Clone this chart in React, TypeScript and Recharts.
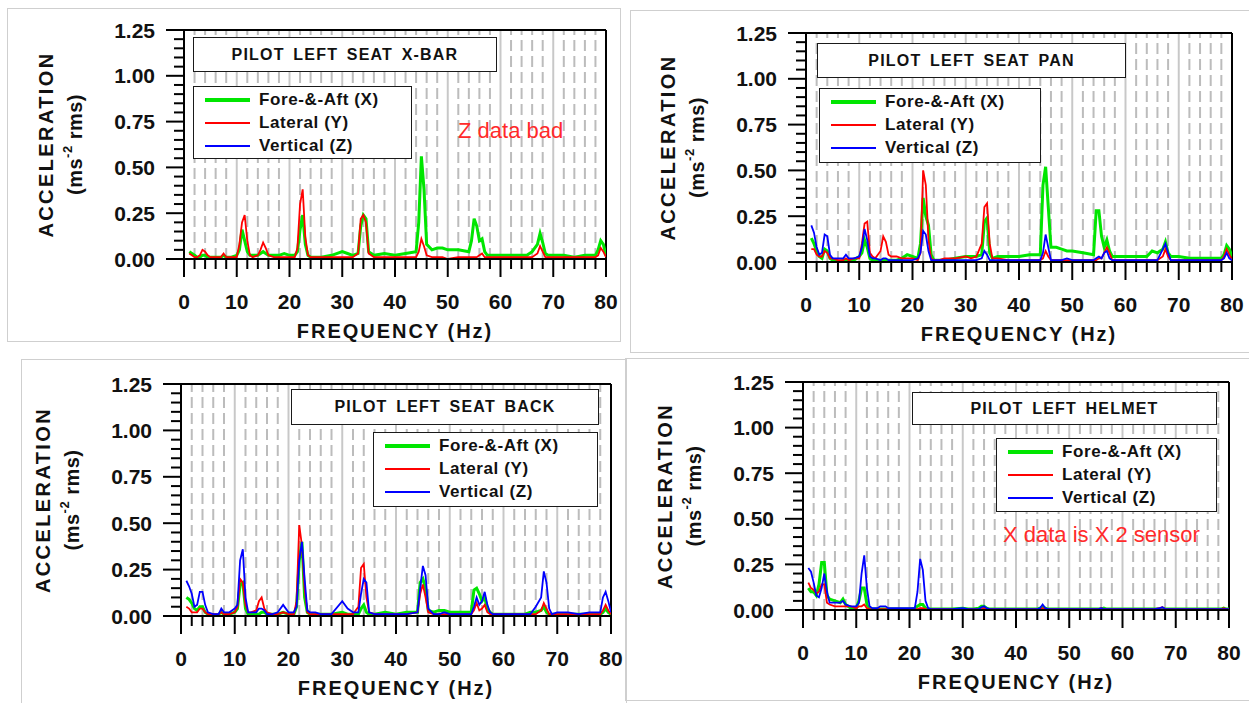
import React from "react";
import { LineChart, Line, XAxis, YAxis, ReferenceLine, Label } from "recharts";

// frequency grid (Hz), shared by every trace
const freqHz = [
  1, 1.5, 2, 2.5, 3, 3.5, 4, 4.5, 5,
  6, 7, 7.5, 8, 9, 10,
  10.5, 11, 11.5, 12, 12.5, 13,
  14, 14.5, 15, 15.5, 16,
  17, 18, 19, 20, 21,
  21.5, 22, 22.5, 23, 23.5, 24,
  25, 26, 28, 30, 31,
  32, 33, 33.5, 34, 34.5, 35,
  36, 38, 40, 42, 44,
  44.5, 45, 45.5, 46, 47,
  48, 49, 50, 52, 54,
  54.5, 55, 55.5, 56, 56.5, 57,
  57.5, 58, 60, 62, 64,
  65, 66, 67, 67.5, 68,
  68.5, 69, 70, 72, 74,
  76, 78, 78.5, 79, 79.5, 80,
];

// seat x-bar
const xbarFore = [
  0.04, 0.03, 0.02, 0.01, 0.01, 0.02, 0.02, 0.01, 0.01,
  0.01, 0.01, 0.02, 0.01, 0.01, 0.02,
  0.05, 0.16, 0.1, 0.04, 0.02, 0.02,
  0.02, 0.03, 0.04, 0.03, 0.02,
  0.02, 0.02, 0.03, 0.02, 0.02,
  0.04, 0.16, 0.24, 0.08, 0.02, 0.01,
  0.01, 0.01, 0.02, 0.04, 0.03,
  0.02, 0.03, 0.18, 0.24, 0.22, 0.04,
  0.02, 0.03, 0.02, 0.03, 0.04,
  0.2, 0.56, 0.38, 0.08, 0.05,
  0.06, 0.06, 0.05, 0.05, 0.04,
  0.1, 0.22, 0.18, 0.1, 0.11, 0.04,
  0.02, 0.02, 0.02, 0.02, 0.02,
  0.02, 0.04, 0.08, 0.14, 0.09,
  0.03, 0.02, 0.02, 0.02, 0.01,
  0.02, 0.02, 0.05, 0.1, 0.08, 0.02,
];
const xbarLat = [
  0.03, 0.02, 0.01, 0.01, 0.02, 0.05, 0.04, 0.02, 0.01,
  0.01, 0.01, 0.03, 0.01, 0.01, 0.01,
  0.08, 0.2, 0.24, 0.1, 0.02, 0.01,
  0.02, 0.05, 0.09, 0.06, 0.02,
  0.01, 0.01, 0.01, 0.01, 0.01,
  0.06, 0.3, 0.38, 0.12, 0.02, 0.01,
  0.01, 0.01, 0.01, 0.01, 0.01,
  0.01, 0.03, 0.22, 0.24, 0.2, 0.03,
  0.01, 0.01, 0.01, 0.01, 0.01,
  0.04, 0.11, 0.07, 0.02, 0.01,
  0.01, 0.01, 0.0, 0.01, 0.01,
  0.01, 0.01, 0.01, 0.02, 0.03, 0.01,
  0.01, 0.01, 0.01, 0.01, 0.01,
  0.01, 0.01, 0.03, 0.07, 0.04,
  0.01, 0.01, 0.01, 0.01, 0.01,
  0.01, 0.01, 0.02, 0.06, 0.04, 0.01,
];
const xbarVert = [
  0, 0, 0, 0, 0, 0, 0, 0, 0,
  0, 0, 0, 0, 0, 0,
  0, 0, 0, 0, 0, 0,
  0, 0, 0, 0, 0,
  0, 0, 0, 0, 0,
  0, 0, 0, 0, 0, 0,
  0, 0, 0, 0, 0,
  0, 0, 0, 0, 0, 0,
  0, 0, 0, 0, 0,
  0, 0, 0, 0, 0,
  0, 0, 0, 0, 0,
  0, 0, 0, 0, 0, 0,
  0, 0, 0, 0, 0,
  0, 0, 0, 0, 0,
  0, 0, 0, 0, 0,
  0, 0, 0, 0, 0, 0,
];

// seat pan
const panFore = [
  0.13, 0.1, 0.06, 0.03, 0.02, 0.07, 0.06, 0.02, 0.01,
  0.0, 0.01, 0.01, 0.01, 0.01, 0.03,
  0.05, 0.12, 0.08, 0.02, 0.01, 0.01,
  0.01, 0.01, 0.01, 0.01, 0.01,
  0.01, 0.02, 0.04, 0.03, 0.02,
  0.1, 0.35, 0.25, 0.2, 0.04, 0.01,
  0.01, 0.01, 0.02, 0.03, 0.03,
  0.03, 0.04, 0.22, 0.24, 0.05, 0.02,
  0.03, 0.03, 0.03, 0.04, 0.04,
  0.42, 0.52, 0.3, 0.08, 0.08,
  0.07, 0.06, 0.06, 0.05, 0.04,
  0.28, 0.28, 0.14, 0.08, 0.12, 0.06,
  0.03, 0.03, 0.03, 0.03, 0.03,
  0.06, 0.05, 0.07, 0.11, 0.05,
  0.03, 0.03, 0.03, 0.02, 0.02,
  0.02, 0.02, 0.04, 0.09, 0.07, 0.03,
];
const panLat = [
  0.07, 0.07, 0.04, 0.03, 0.03, 0.06, 0.05, 0.02, 0.02,
  0.01, 0.01, 0.02, 0.01, 0.02, 0.02,
  0.1, 0.21, 0.22, 0.05, 0.03, 0.02,
  0.06, 0.14, 0.11, 0.04, 0.03,
  0.03, 0.02, 0.02, 0.02, 0.01,
  0.05, 0.5, 0.42, 0.12, 0.02, 0.01,
  0.01, 0.02, 0.02, 0.03, 0.02,
  0.03, 0.1, 0.3, 0.32, 0.1, 0.02,
  0.02, 0.01, 0.01, 0.01, 0.01,
  0.02, 0.06, 0.03, 0.01, 0.01,
  0.01, 0.01, 0.01, 0.01, 0.01,
  0.01, 0.02, 0.02, 0.05, 0.08, 0.05,
  0.01, 0.01, 0.01, 0.01, 0.01,
  0.01, 0.01, 0.03, 0.07, 0.03,
  0.01, 0.01, 0.01, 0.01, 0.01,
  0.01, 0.01, 0.03, 0.07, 0.04, 0.01,
];
const panVert = [
  0.2, 0.16, 0.08, 0.04, 0.05, 0.15, 0.14, 0.04, 0.02,
  0.02, 0.02, 0.04, 0.02, 0.02, 0.03,
  0.08, 0.18, 0.12, 0.03, 0.02, 0.02,
  0.01, 0.02, 0.02, 0.01, 0.01,
  0.01, 0.01, 0.01, 0.01, 0.02,
  0.05, 0.17, 0.15, 0.06, 0.01, 0.01,
  0.01, 0.01, 0.01, 0.01, 0.01,
  0.01, 0.02, 0.06, 0.04, 0.01, 0.01,
  0.01, 0.01, 0.01, 0.01, 0.01,
  0.05, 0.15, 0.08, 0.01, 0.01,
  0.01, 0.02, 0.01, 0.01, 0.01,
  0.02, 0.03, 0.02, 0.05, 0.06, 0.02,
  0.01, 0.01, 0.01, 0.01, 0.01,
  0.01, 0.01, 0.07, 0.1, 0.05,
  0.01, 0.01, 0.01, 0.01, 0.01,
  0.01, 0.01, 0.02, 0.05, 0.02, 0.01,
];

// seat back
const backFore = [
  0.1, 0.09, 0.07, 0.04, 0.03, 0.05, 0.05, 0.02, 0.01,
  0.0, 0.01, 0.02, 0.01, 0.01, 0.02,
  0.04, 0.17, 0.18, 0.04, 0.01, 0.01,
  0.01, 0.01, 0.02, 0.02, 0.01,
  0.01, 0.01, 0.02, 0.01, 0.01,
  0.05, 0.3, 0.4, 0.1, 0.02, 0.01,
  0.01, 0.01, 0.01, 0.02, 0.01,
  0.01, 0.01, 0.04, 0.06, 0.02, 0.01,
  0.01, 0.02, 0.01, 0.02, 0.02,
  0.18, 0.2, 0.15, 0.03, 0.02,
  0.03, 0.03, 0.02, 0.02, 0.02,
  0.14, 0.15, 0.12, 0.08, 0.1, 0.04,
  0.02, 0.01, 0.01, 0.01, 0.01,
  0.02, 0.02, 0.03, 0.05, 0.02,
  0.01, 0.01, 0.01, 0.01, 0.01,
  0.01, 0.01, 0.02, 0.04, 0.02, 0.01,
];
const backLat = [
  0.05, 0.04, 0.02, 0.02, 0.02, 0.04, 0.04, 0.02, 0.01,
  0.01, 0.01, 0.02, 0.01, 0.01, 0.02,
  0.05, 0.2, 0.18, 0.06, 0.02, 0.02,
  0.03, 0.08, 0.1, 0.04, 0.02,
  0.01, 0.01, 0.02, 0.01, 0.01,
  0.08, 0.49, 0.38, 0.15, 0.02, 0.01,
  0.01, 0.01, 0.01, 0.01, 0.01,
  0.01, 0.05, 0.26, 0.28, 0.1, 0.02,
  0.01, 0.01, 0.01, 0.01, 0.02,
  0.12, 0.17, 0.1, 0.02, 0.01,
  0.01, 0.01, 0.01, 0.01, 0.01,
  0.03, 0.07, 0.03, 0.04, 0.06, 0.02,
  0.01, 0.01, 0.01, 0.01, 0.01,
  0.01, 0.01, 0.03, 0.07, 0.04,
  0.01, 0.01, 0.01, 0.01, 0.01,
  0.01, 0.01, 0.03, 0.06, 0.03, 0.01,
];
const backVert = [
  0.19, 0.16, 0.12, 0.05, 0.06, 0.13, 0.13, 0.06, 0.02,
  0.01, 0.01, 0.04, 0.02, 0.02, 0.04,
  0.06, 0.3, 0.36, 0.1, 0.02, 0.02,
  0.02, 0.04, 0.04, 0.03, 0.01,
  0.01, 0.02, 0.06, 0.02, 0.02,
  0.05, 0.3, 0.4, 0.2, 0.03, 0.02,
  0.02, 0.01, 0.01, 0.08, 0.04,
  0.02, 0.02, 0.12, 0.2, 0.18, 0.02,
  0.01, 0.01, 0.01, 0.01, 0.02,
  0.15, 0.27, 0.22, 0.04, 0.01,
  0.01, 0.02, 0.01, 0.01, 0.01,
  0.05, 0.1, 0.06, 0.08, 0.13, 0.06,
  0.02, 0.01, 0.01, 0.01, 0.01,
  0.01, 0.05, 0.1, 0.24, 0.18,
  0.04, 0.01, 0.02, 0.02, 0.01,
  0.02, 0.02, 0.1, 0.13, 0.08, 0.02,
];

// helmet
const helmetFore = [
  0.12, 0.1, 0.1, 0.08, 0.14, 0.26, 0.26, 0.08, 0.06,
  0.05, 0.04, 0.06, 0.03, 0.01, 0.01,
  0.05, 0.12, 0.12, 0.03, 0.01, 0.005,
  0.005, 0.005, 0.005, 0.005, 0.005,
  0.005, 0.005, 0.005, 0.005, 0.01,
  0.02, 0.03, 0.03, 0.01, 0.005, 0.005,
  0.005, 0.005, 0.005, 0.01, 0.005,
  0.005, 0.01, 0.02, 0.02, 0.01, 0.005,
  0.005, 0.005, 0.005, 0.005, 0.005,
  0.01, 0.02, 0.01, 0.005, 0.005,
  0.005, 0.005, 0.005, 0.005, 0.005,
  0.005, 0.005, 0.005, 0.005, 0.01, 0.005,
  0.005, 0.005, 0.005, 0.005, 0.005,
  0.005, 0.005, 0.005, 0.01, 0.005,
  0.005, 0.005, 0.005, 0.005, 0.005,
  0.005, 0.005, 0.005, 0.01, 0.005, 0.005,
];
const helmetLat = [
  0.15, 0.12, 0.11, 0.09, 0.1, 0.14, 0.14, 0.04, 0.03,
  0.02, 0.02, 0.02, 0.02, 0.02, 0.01,
  0.02, 0.02, 0.03, 0.01, 0.005, 0.005,
  0.005, 0.005, 0.005, 0.005, 0.005,
  0.005, 0.005, 0.005, 0.005, 0.005,
  0.005, 0.01, 0.01, 0.005, 0.005, 0.005,
  0.005, 0.005, 0.005, 0.005, 0.005,
  0.005, 0.005, 0.005, 0.01, 0.005, 0.005,
  0.005, 0.005, 0.005, 0.005, 0.005,
  0.005, 0.01, 0.005, 0.005, 0.005,
  0.005, 0.005, 0.005, 0.005, 0.005,
  0.005, 0.005, 0.005, 0.01, 0.005, 0.005,
  0.005, 0.005, 0.005, 0.005, 0.005,
  0.005, 0.005, 0.01, 0.015, 0.005,
  0.005, 0.005, 0.005, 0.005, 0.005,
  0.005, 0.005, 0.005, 0.01, 0.005, 0.005,
];
const helmetVert = [
  0.23, 0.21, 0.15, 0.08, 0.07, 0.12, 0.2, 0.1, 0.04,
  0.04, 0.04, 0.05, 0.03, 0.02, 0.02,
  0.04, 0.2, 0.3, 0.12, 0.02, 0.01,
  0.01, 0.02, 0.02, 0.02, 0.01,
  0.01, 0.01, 0.01, 0.01, 0.01,
  0.1, 0.28, 0.22, 0.05, 0.01, 0.005,
  0.005, 0.005, 0.005, 0.01, 0.005,
  0.005, 0.005, 0.015, 0.02, 0.01, 0.005,
  0.005, 0.005, 0.005, 0.005, 0.005,
  0.01, 0.03, 0.01, 0.005, 0.005,
  0.005, 0.005, 0.005, 0.005, 0.005,
  0.005, 0.005, 0.005, 0.01, 0.005, 0.005,
  0.005, 0.005, 0.005, 0.005, 0.005,
  0.005, 0.005, 0.01, 0.015, 0.005,
  0.005, 0.005, 0.005, 0.005, 0.005,
  0.005, 0.005, 0.005, 0.005, 0.005, 0.005,
];

const xTicks = [0, 2, 4, 6, 8, 10, 12, 14, 16, 18, 20, 22, 24, 26, 28, 30, 32, 34, 36, 38, 40, 42, 44, 46, 48, 50, 52, 54, 56, 58, 60, 62, 64, 66, 68, 70, 72, 74, 76, 78, 80];
const yTicks = [0, 0.05, 0.1, 0.15, 0.2, 0.25, 0.3, 0.35, 0.4, 0.45, 0.5, 0.55, 0.6, 0.65, 0.7, 0.75, 0.8, 0.85, 0.9, 0.95, 1, 1.05, 1.1, 1.15, 1.2, 1.25];
const seriesNames = ["Fore-&-Aft (X)", "Lateral (Y)", "Vertical (Z)"];

const FONT = "'Liberation Sans', Arial, Helvetica, sans-serif";
const GREEN = "#00e600";
const RED = "#ff0000";
const BLUE = "#0000ff";

const isMajorY = (v: number) => Math.abs(v * 4 - Math.round(v * 4)) < 1e-6;

function XTick(props: any) {
  const { x, y, payload } = props;
  const v = payload.value;
  const major = v % 10 === 0;
  return (
    <g>
      <line x1={x} x2={x} y1={y} y2={y + (major ? 18 : 10)} stroke="#000" strokeWidth={2} />
      {major && (
        <text x={x} y={y + 42} textAnchor="middle" dominantBaseline="central"
          fontFamily={FONT} fontWeight="bold" fontSize={21} fill="#111">
          {v}
        </text>
      )}
    </g>
  );
}

function YTick(props: any) {
  const { x, y, payload } = props;
  const v = payload.value;
  const major = isMajorY(v);
  return (
    <g>
      <line x1={x - (major ? 18 : 10)} x2={x} y1={y} y2={y} stroke="#000" strokeWidth={2} />
      {major && (
        <text x={x - 29} y={y} textAnchor="end" dominantBaseline="central"
          fontFamily={FONT} fontWeight="bold" fontSize={21} fill="#111">
          {v.toFixed(2)}
        </text>
      )}
    </g>
  );
}

function YTitle(props: any) {
  const vb = props.viewBox;
  const right = vb.x + vb.width;
  const cy = vb.y + vb.height / 2;
  const x1 = right - 138;
  const x2 = right - 109;
  return (
    <g fontFamily={FONT} fontWeight="bold" fill="#111">
      <text x={x1} y={cy} transform={`rotate(-90 ${x1} ${cy})`} textAnchor="middle"
        dominantBaseline="central" fontSize={20} letterSpacing={2.4}>
        ACCELERATION
      </text>
      <text x={x2} y={cy} transform={`rotate(-90 ${x2} ${cy})`} textAnchor="middle"
        dominantBaseline="central" fontSize={20} letterSpacing={0.5}>
        (ms<tspan dy={-8} fontSize={13}>-2</tspan><tspan dy={8}> rms)</tspan>
      </text>
    </g>
  );
}

function XTitle(props: any) {
  const vb = props.viewBox;
  return (
    <text x={vb.x + vb.width / 2} y={vb.y + 72} textAnchor="middle" dominantBaseline="central"
      fontFamily={FONT} fontWeight="bold" fontSize={20} letterSpacing={2} fill="#111">
      FREQUENCY (Hz)
    </text>
  );
}

type Box = { left: number; top: number; width: number; height: number };
type PanelProps = {
  frame: Box;
  plot: Box;
  titleBox: Box;
  legendBox: Box;
  title: string;
  fore: number[];
  lat: number[];
  vert: number[];
  note?: { text: string; left: number; top: number };
};

function Panel({ frame, plot, titleBox, legendBox, title, fore, lat, vert, note }: PanelProps) {
  const data = freqHz.map((f, i) => ({ f, x: fore[i], y: lat[i], z: vert[i] }));
  const padL = 180, padT = 20, padR = 20, padB = 90;
  const legendRows = [
    { name: seriesNames[0], color: GREEN, w: 4 },
    { name: seriesNames[1], color: RED, w: 2 },
    { name: seriesNames[2], color: BLUE, w: 2 },
  ];
  return (
    <>
      <div style={{ position: "absolute", left: frame.left, top: frame.top, width: frame.width, height: frame.height, border: "1px solid #cfcfcf", boxSizing: "border-box" }} />
      <div style={{ position: "absolute", left: plot.left - padL, top: plot.top - padT }}>
        <LineChart width={plot.width + padL + padR} height={plot.height + padT + padB} data={data}
          margin={{ top: padT, right: padR, bottom: 0, left: 0 }}>
          {xTicks.filter((t) => t > 0 && t < 80).map((t) => (
            <ReferenceLine key={t} x={t} stroke={t % 10 === 0 ? "#c8c8c8" : "#bcbcbc"}
              strokeWidth={2} strokeDasharray={t % 10 === 0 ? undefined : "11 5"} />
          ))}
          <XAxis type="number" dataKey="f" domain={[0, 80]} ticks={xTicks} interval={0}
            tickSize={0} tickMargin={0} tickLine={false} tick={<XTick />} height={padB}
            axisLine={{ stroke: "#000", strokeWidth: 2 }} allowDataOverflow>
            <Label content={<XTitle />} />
          </XAxis>
          <YAxis type="number" domain={[0, 1.25]} ticks={yTicks} interval={0} width={padL}
            tickSize={0} tickMargin={0} tickLine={false} tick={<YTick />}
            axisLine={{ stroke: "#000", strokeWidth: 2 }} allowDataOverflow>
            <Label content={<YTitle />} />
          </YAxis>
          <ReferenceLine y={1.25} stroke="#000" strokeWidth={2} />
          <ReferenceLine x={80} stroke="#000" strokeWidth={2} />
          <Line type="linear" dataKey="x" stroke={GREEN} strokeWidth={3} dot={false} isAnimationActive={false} />
          <Line type="linear" dataKey="y" stroke={RED} strokeWidth={1.8} dot={false} isAnimationActive={false} />
          <Line type="linear" dataKey="z" stroke={BLUE} strokeWidth={1.8} dot={false} isAnimationActive={false} />
        </LineChart>
      </div>
      <div style={{ position: "absolute", left: titleBox.left, top: titleBox.top, width: titleBox.width, height: titleBox.height, border: "1.5px solid #1a1a1a", background: "#fff", boxSizing: "border-box", display: "flex", alignItems: "center", justifyContent: "center", fontFamily: FONT, fontWeight: "bold", fontSize: 16, letterSpacing: 1.2, wordSpacing: 3, color: "#111" }}>
        {title}
      </div>
      <div style={{ position: "absolute", left: legendBox.left, top: legendBox.top, width: legendBox.width, height: legendBox.height, border: "1.5px solid #1a1a1a", background: "#fff", boxSizing: "border-box" }}>
        {legendRows.map((r, i) => (
          <div key={r.name} style={{ position: "absolute", left: 0, top: 13 + i * 23 - 11, height: 22, width: "100%", display: "flex", alignItems: "center" }}>
            <svg width={70} height={22} style={{ flex: "none" }}>
              <line x1={11} x2={56} y1={11} y2={11} stroke={r.color} strokeWidth={r.w} />
            </svg>
            <span style={{ fontFamily: FONT, fontWeight: "bold", fontSize: 17, letterSpacing: 0.6, color: "#111", marginLeft: -5 }}>{r.name}</span>
          </div>
        ))}
      </div>
      {note && (
        <div style={{ position: "absolute", left: note.left, top: note.top, fontFamily: FONT, fontSize: 22, color: "#ff2a2a", whiteSpace: "nowrap", lineHeight: "26px" }}>
          {note.text}
        </div>
      )}
    </>
  );
}

export default function App() {
  return (
    <div style={{ position: "absolute", left: 0, top: 0, width: 1249, height: 703, background: "#fff", overflow: "hidden" }}>
      <Panel
        frame={{ left: 7, top: 8, width: 614, height: 334 }}
        plot={{ left: 184, top: 30, width: 422, height: 229 }}
        titleBox={{ left: 193, top: 37, width: 304, height: 35 }}
        legendBox={{ left: 193, top: 86, width: 219, height: 73 }}
        title="PILOT LEFT SEAT X-BAR"
        fore={xbarFore} lat={xbarLat} vert={xbarVert}
        note={{ text: "Z data bad", left: 458, top: 118 }}
      />
      <Panel
        frame={{ left: 630, top: 10, width: 625, height: 343 }}
        plot={{ left: 806, top: 33, width: 426, height: 229 }}
        titleBox={{ left: 817, top: 43, width: 309, height: 35 }}
        legendBox={{ left: 819, top: 88, width: 222, height: 75 }}
        title="PILOT LEFT SEAT PAN"
        fore={panFore} lat={panLat} vert={panVert}
      />
      <Panel
        frame={{ left: 21, top: 359, width: 606, height: 350 }}
        plot={{ left: 181, top: 384, width: 430, height: 232 }}
        titleBox={{ left: 291, top: 389, width: 308, height: 36 }}
        legendBox={{ left: 373, top: 432, width: 225, height: 75 }}
        title="PILOT LEFT SEAT BACK"
        fore={backFore} lat={backLat} vert={backVert}
      />
      <Panel
        frame={{ left: 625, top: 358, width: 630, height: 343 }}
        plot={{ left: 803, top: 382, width: 426, height: 228 }}
        titleBox={{ left: 912, top: 392, width: 305, height: 33 }}
        legendBox={{ left: 996, top: 438, width: 221, height: 74 }}
        title="PILOT LEFT HELMET"
        fore={helmetFore} lat={helmetLat} vert={helmetVert}
        note={{ text: "X data is X 2 sensor", left: 1003, top: 522 }}
      />
    </div>
  );
}
